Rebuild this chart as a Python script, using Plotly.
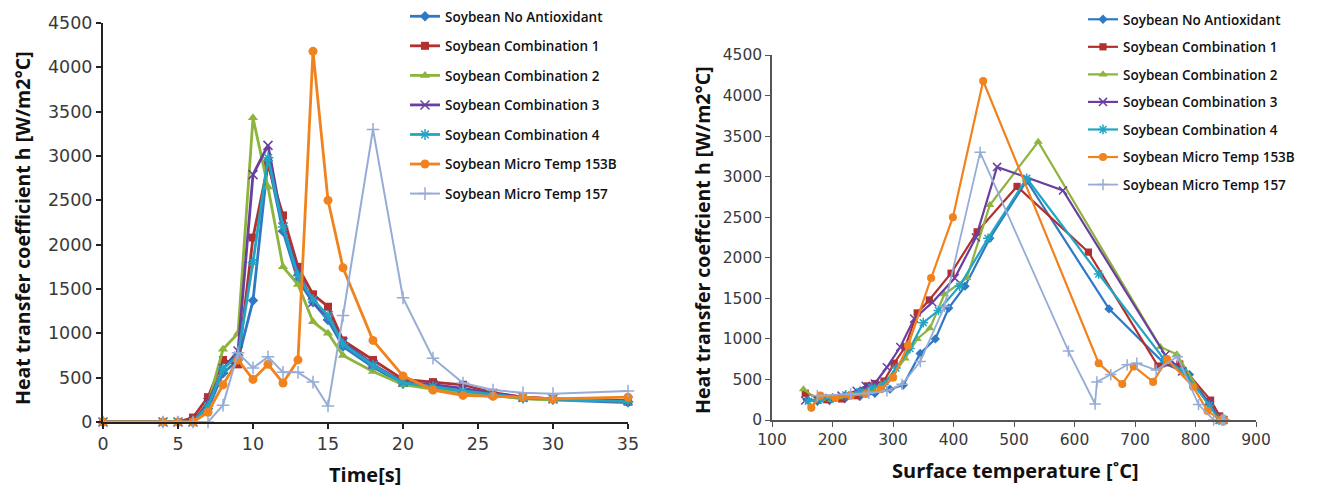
import plotly.graph_objects as go

# page body has an 8px margin: the figure is sized to fill the rest of the 1319x491 window
OFF = 8
W, H = 1319 - OFF, 491 - OFF

names = ["Soybean No Antioxidant", "Soybean Combination 1", "Soybean Combination 2",
         "Soybean Combination 3", "Soybean Combination 4", "Soybean Micro Temp 153B",
         "Soybean Micro Temp 157"]
colors = ["#2F78C4", "#B2302E", "#8DB43C", "#6B3FA0", "#22A5C4", "#F0831E", "#96ACD6"]

# ---- Left chart: h vs time ----
time_main = [0, 4, 5, 6, 7, 8, 9, 10, 11, 12, 13, 14, 15, 16, 18, 20, 22, 24, 26, 28, 30, 35]
h_noanti = [0, 0, 0, 0, 150, 550, 700, 1370, 2950, 2150, 1600, 1350, 1150, 850, 620, 430, 380, 340, 300, 270, 250, 220]
h_comb1 = [0, 0, 0, 50, 280, 700, 650, 2080, 2900, 2330, 1750, 1440, 1300, 920, 700, 480, 450, 420, 330, 280, 260, 230]
h_comb2 = [0, 0, 0, 0, 200, 820, 1000, 3430, 2650, 1750, 1550, 1130, 1000, 750, 570, 420, 370, 320, 300, 260, 250, 240]
h_comb3 = [0, 0, 0, 0, 220, 600, 800, 2790, 3120, 2200, 1700, 1350, 1200, 900, 650, 450, 420, 380, 320, 280, 260, 240]
h_comb4 = [0, 0, 0, 0, 180, 600, 750, 1800, 2980, 2200, 1650, 1380, 1200, 880, 640, 440, 400, 350, 310, 270, 260, 230]
h_153b = [0, 0, 0, 0, 110, 420, 700, 480, 650, 440, 700, 4180, 2500, 1740, 920, 520, 360, 300, 290, 280, 260, 280]
time_157 = [0, 4, 5, 6, 7, 8, 9, 10, 11, 12, 13, 14, 15, 16, 18, 20, 22, 24, 26, 28, 30, 35]
h_157 = [0, 0, 0, 0, 0, 190, 780, 610, 735, 560, 560, 450, 180, 1200, 3300, 1400, 720, 440, 360, 330, 320, 350]

# ---- Right chart: h vs surface temperature ----
T_noanti = [846, 845, 844, 840, 826, 790, 748, 657, 521, 460, 419, 392, 370, 345, 317, 295, 270, 245, 220, 195, 175, 158]
hT_noanti = [0, 0, 0, 30, 160, 560, 700, 1370, 2950, 2240, 1650, 1380, 1000, 820, 430, 380, 330, 290, 260, 240, 230, 250]
T_comb1 = [846, 845, 844, 840, 825, 774, 738, 623, 505, 439, 396, 360, 340, 320, 302, 285, 270, 258, 240, 215, 190, 155]
hT_comb1 = [0, 0, 0, 50, 245, 690, 665, 2070, 2880, 2320, 1810, 1480, 1320, 900, 700, 480, 450, 420, 300, 260, 250, 330]
T_comb2 = [848, 847, 846, 843, 820, 769, 742, 540, 460, 422, 385, 361, 340, 320, 300, 280, 262, 240, 215, 195, 175, 152]
hT_comb2 = [0, 0, 0, 0, 200, 810, 900, 3430, 2650, 1750, 1550, 1130, 1000, 760, 560, 420, 370, 320, 280, 250, 250, 380]
T_comb3 = [846, 845, 844, 840, 822, 778, 750, 581, 472, 437, 402, 365, 335, 312, 290, 270, 255, 240, 215, 195, 175, 155]
hT_comb3 = [0, 0, 0, 0, 220, 600, 800, 2830, 3120, 2250, 1750, 1450, 1250, 900, 650, 450, 420, 360, 300, 270, 250, 240]
T_comb4 = [846, 845, 843, 839, 823, 780, 748, 640, 521, 457, 410, 375, 350, 328, 305, 285, 265, 245, 222, 200, 180, 160]
hT_comb4 = [0, 0, 0, 0, 180, 600, 750, 1800, 2980, 2240, 1650, 1350, 1200, 880, 640, 440, 400, 350, 310, 270, 260, 230]
T_153b = [848, 846, 845, 842, 820, 796, 753, 730, 698, 679, 640, 449, 399, 363, 325, 300, 280, 255, 230, 205, 180, 165]
hT_153b = [0, 0, 0, 0, 110, 410, 750, 470, 660, 444, 700, 4180, 2500, 1750, 920, 520, 380, 320, 300, 270, 300, 150]
T_157 = [848, 846, 845, 843, 830, 805, 770, 735, 703, 687, 660, 637, 634, 590, 444, 385, 345, 315, 290, 260, 230, 175]
hT_157 = [0, 0, 0, 0, 0, 190, 780, 615, 700, 680, 560, 470, 197, 850, 3300, 1400, 720, 440, 360, 330, 320, 300]

left_x = [time_main] * 6 + [time_157]
left_y = [h_noanti, h_comb1, h_comb2, h_comb3, h_comb4, h_153b, h_157]
right_x = [T_noanti, T_comb1, T_comb2, T_comb3, T_comb4, T_153b, T_157]
right_y = [hT_noanti, hT_comb1, hT_comb2, hT_comb3, hT_comb4, hT_153b, hT_157]

symbols = ["diamond", "square", "triangle-up", "x-thin-open", "asterisk-open", "circle", "cross-thin-open"]
msizes = [8, 8, 9, 9, 9, 9, 9]


def marker(i, scale=1.0):
    m = dict(symbol=symbols[i], size=msizes[i] * scale, color=colors[i])
    if symbols[i].endswith("-open"):
        m["line"] = dict(color=colors[i], width=1.5)
    return m


fig = go.Figure()
for i, n in enumerate(names):
    fig.add_trace(go.Scatter(
        x=left_x[i], y=left_y[i], name=n, mode="lines+markers",
        line=dict(color=colors[i], width=2.8 if i < 6 else 2),
        marker=marker(i), cliponaxis=False, xaxis="x", yaxis="y",
        legend="legend", legendgroup="L" + str(i)))
for i, n in enumerate(names):
    fig.add_trace(go.Scatter(
        x=right_x[i], y=right_y[i], name=n, mode="lines+markers",
        line=dict(color=colors[i], width=2.2 if i < 6 else 1.8),
        marker=marker(i, 0.9), cliponaxis=False, xaxis="x2", yaxis="y2",
        legend="legend2", legendgroup="R" + str(i)))


def px_x(p):
    return (p - OFF) / W


def px_y(p):
    return 1 - (p - OFF) / H


tick_font_l = dict(family="DejaVu Sans, sans-serif", size=17.5, color="#3a3a3a")
tick_font_r = dict(family="DejaVu Sans, sans-serif", size=15.5, color="#3a3a3a")
leg_font = dict(family="Open Sans, sans-serif", size=13.5, color="#111111", weight=600)

common = dict(showgrid=False, zeroline=False, showline=True, ticks="outside", ticklen=5,
              automargin=False)

fig.update_layout(
    width=W, height=H, margin=dict(l=0, r=0, t=0, b=0, autoexpand=False),
    paper_bgcolor="white", plot_bgcolor="white",
    xaxis=dict(domain=[px_x(103), px_x(628)], range=[0, 35], tickvals=[0, 5, 10, 15, 20, 25, 30, 35],
               linecolor="#222222", linewidth=2, tickcolor="#222222", tickwidth=1.5,
               tickfont=tick_font_l, anchor="y", **common),
    yaxis=dict(domain=[px_y(422), px_y(23)], range=[0, 4500], dtick=500,
               linecolor="#222222", linewidth=2, tickcolor="#222222", tickwidth=1.5,
               tickfont=tick_font_l, anchor="x", **common),
    xaxis2=dict(domain=[px_x(772), px_x(1256)], range=[100, 900], dtick=100,
                linecolor="#555555", linewidth=1.5, tickcolor="#555555",
                tickfont=tick_font_r, anchor="y2", **common),
    yaxis2=dict(domain=[px_y(420), px_y(55)], range=[0, 4500], dtick=500,
                linecolor="#555555", linewidth=1.5, tickcolor="#555555",
                tickfont=tick_font_r, anchor="x2", **common),
    legend=dict(x=px_x(405), y=px_y(1), xanchor="left", yanchor="top", tracegroupgap=9,
                font=leg_font, bgcolor="rgba(0,0,0,0)", itemclick=False),
    legend2=dict(x=px_x(1083), y=px_y(4), xanchor="left", yanchor="top", tracegroupgap=7,
                 font=leg_font, bgcolor="rgba(0,0,0,0)", itemclick=False),
    showlegend=True,
)

title_font = dict(family="Open Sans, sans-serif", size=19.5, color="#111111", weight="bold")
fig.add_annotation(text="Heat transfer coefficient h [W/m2°C]", textangle=-90,
                   x=px_x(22), y=px_y(228), xref="paper", yref="paper", showarrow=False,
                   xanchor="center", yanchor="middle", font=title_font)
fig.add_annotation(text="Time[s]", x=px_x(365), y=px_y(474), xref="paper", yref="paper",
                   xanchor="center", yanchor="middle", showarrow=False, font=dict(title_font, size=20))
fig.add_annotation(text="Heat transfer coeffcient h [W/m2°C]", textangle=-90,
                   x=px_x(703), y=px_y(240), xref="paper", yref="paper", showarrow=False,
                   xanchor="center", yanchor="middle", font=title_font)
fig.add_annotation(text="Surface temperature [˚C]", x=px_x(1015), y=px_y(470), xref="paper",
                   yref="paper", xanchor="center", yanchor="middle", showarrow=False,
                   font=dict(title_font, size=20))

fig.write_html("out.html")
